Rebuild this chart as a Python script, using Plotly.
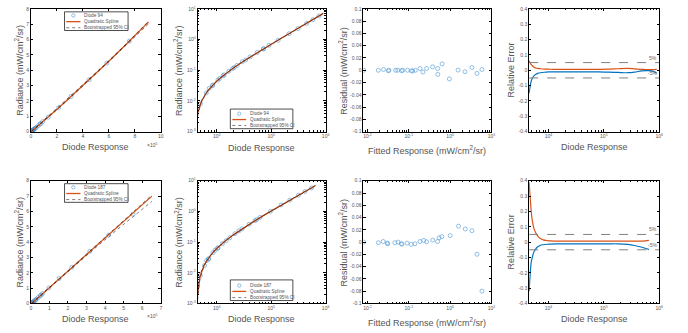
import plotly.graph_objects as go

# ---------------- Diode 94 ----------------
d94_response = [5065, 6470, 7320, 8355, 8490, 10560, 11380, 13170, 13720, 16750, 19750, 21020,
                23770, 29620, 34140, 40980, 55450, 72310, 72990, 91280, 134350, 214230, 309930,
                448930, 584930, 757930]
d94_fitted = [0.0081, 0.0183, 0.0245, 0.032, 0.033, 0.048, 0.054, 0.067, 0.071, 0.093, 0.115, 0.124,
              0.144, 0.187, 0.22, 0.27, 0.376, 0.50, 0.505, 0.64, 0.96, 1.56, 2.29, 3.38, 4.47, 5.90]
d94_residual = [0.0, 0.0, 0.0013, -0.0008, 0.0, 0.0, 0.0, -0.0008, 0.0, 0.0, -0.0008, -0.0013,
                0.0, 0.0029, -0.0029, 0.0029, 0.0056, 0.0029, -0.0067, 0.0104, -0.0141, 0.0003,
                -0.0024, 0.0045, -0.0051, 0.0013]
d94_curve_x = [4470, 4700, 4900, 5100, 5400, 5900, 6400, 7200, 8400, 10000, 12000, 15000, 20000,
               30000, 50000, 80000, 120000, 180000, 270000, 360000, 480000, 600000, 730000, 906000]
d94_spline = [0.00378, 0.00545, 0.0069, 0.00835, 0.01053, 0.01416, 0.01779, 0.02361, 0.03232,
              0.04397, 0.05852, 0.08035, 0.11676, 0.18971, 0.33604, 0.55665, 0.85288, 1.30168,
              1.98491, 2.68018, 3.62593, 4.59308, 5.66497, 7.15616]
d94_rel_upper = [0.062, 0.046, 0.036, 0.029, 0.022, 0.015, 0.012, 0.010, 0.008, 0.007, 0.006, 0.006,
                 0.006, 0.006, 0.006, 0.006, 0.007, 0.010, 0.012, 0.009, 0.006, 0.004, 0.004, 0.006]
d94_rel_lower = [-0.150, -0.095, -0.068, -0.052, -0.038, -0.026, -0.020, -0.016, -0.013, -0.011,
                 -0.010, -0.010, -0.010, -0.010, -0.010, -0.011, -0.012, -0.014, -0.016, -0.012,
                 -0.004, -0.002, -0.004, -0.018]

# ---------------- Diode 187 ----------------
d187_response = [5042, 5989, 6518, 7076, 7168, 8561, 9397, 10418, 10604, 12740, 14968, 17382, 21653,
                 25646, 29360, 39573, 50715, 54430, 62786, 97100, 152750, 220410, 317660, 418530,
                 550710]
d187_fitted = [0.0081, 0.0183, 0.024, 0.030, 0.031, 0.046, 0.055, 0.066, 0.068, 0.091, 0.115, 0.141,
               0.187, 0.23, 0.27, 0.38, 0.50, 0.54, 0.63, 1.0, 1.6, 2.33, 3.38, 4.47, 5.9]
d187_residual = [0.0, -0.001, 0.001, -0.0016, -0.0027, -0.001, 0.0, -0.0027, -0.0032, -0.0016,
                 -0.0037, -0.0027, 0.001, 0.0027, 0.0005, 0.0032, 0.001, 0.007, 0.009, 0.0107,
                 0.026, 0.0214, 0.0187, -0.0198, -0.080]
d187_curve_x = [4470, 4600, 4750, 4900, 5100, 5400, 5800, 6300, 7000, 8000, 9500, 11000, 14000,
                20000, 30000, 50000, 80000, 120000, 180000, 270000, 360000, 470000, 560000, 652000]
d187_spline = [0.00194, 0.00334, 0.00495, 0.00657, 0.00872, 0.01196, 0.01626, 0.02165, 0.02919,
               0.03996, 0.05611, 0.07227, 0.10458, 0.16921, 0.27693, 0.4924, 0.81568, 1.24687,
               1.89394, 2.86523, 3.83732, 5.02654, 6.00044, 6.99681]
d187_rel_upper = [0.39, 0.32, 0.25, 0.19, 0.14, 0.095, 0.064, 0.042, 0.025, 0.015, 0.010, 0.008,
                  0.006, 0.006, 0.006, 0.006, 0.006, 0.006, 0.006, 0.006, 0.006, 0.006, 0.008, 0.011]
d187_rel_lower = [-0.32, -0.24, -0.17, -0.125, -0.10, -0.067, -0.047, -0.032, -0.022, -0.017, -0.014,
                  -0.013, -0.012, -0.011, -0.011, -0.011, -0.011, -0.011, -0.011, -0.015, -0.022,
                  -0.032, -0.040, -0.049]

# ---------------- tick labels ----------------
lin_ticks_94 = [0, 2, 4, 6, 8, 10]          # x 10^5
lin_ticks_187 = [0, 1, 2, 3, 4, 5, 6, 7]    # x 10^5
radiance_ticks = [0, 1, 2, 3, 4, 5, 6, 7, 8]
residual_ticks = [-0.1, -0.08, -0.06, -0.04, -0.02, 0, 0.02, 0.04, 0.06, 0.08, 0.1]
relerr_ticks = [-0.4, -0.3, -0.2, -0.1, 0, 0.1, 0.2, 0.3, 0.4]
err_band = 0.05

BLUE = "#0072BD"
ORANGE = "#D95319"
MARKER = "#4a95d4"
TXT = "#555555"
TICK_TXT = "#555555"
FONT = "Liberation Sans, Arial, Helvetica, sans-serif"

W, H = 688, 333
# panel boxes in pixels: left, right, top, bottom
BOXES = {1: (30, 161, 6, 131), 2: (198, 327, 6, 131), 3: (365, 494, 6, 131), 4: (532, 663, 6, 131),
         5: (30, 161, 181, 306), 6: (198, 327, 181, 306), 7: (365, 494, 181, 306), 8: (532, 663, 181, 306)}


def px(x):
    return x / W


def py(y):
    return 1 - y / H


def names(i):
    return ("x" if i == 1 else f"x{i}", "y" if i == 1 else f"y{i}")


def fmt(v):
    return f"{v:g}"


def sup(base, e):
    return f"{base}<sup>{e}</sup>"


fig = go.Figure()


def add_row(first, response, fitted, residual, cx, spline, up, lo):
    radiance = [f + r for f, r in zip(fitted, residual)]
    ci_up = [s * (1 + u) for s, u in zip(spline, up)]
    ci_lo = [s * (1 + l) for s, l in zip(spline, lo)]
    for k in (first, first + 1):
        xa, ya = names(k)
        fig.add_trace(go.Scatter(x=response, y=radiance, mode="markers", xaxis=xa, yaxis=ya,
                                 marker=dict(symbol="circle-open", size=4, color=MARKER,
                                             line=dict(width=0.6)), showlegend=False))
        fig.add_trace(go.Scatter(x=cx, y=spline, mode="lines", xaxis=xa, yaxis=ya,
                                 line=dict(color=ORANGE, width=1.3), showlegend=False))
        for ci in (ci_up, ci_lo):
            fig.add_trace(go.Scatter(x=cx, y=ci, mode="lines", xaxis=xa, yaxis=ya,
                                     line=dict(color="#222222", width=0.6, dash="dot"),
                                     showlegend=False))
    xa, ya = names(first + 2)
    fig.add_trace(go.Scatter(x=fitted, y=residual, mode="markers", xaxis=xa, yaxis=ya,
                             marker=dict(symbol="circle-open", size=4, color=MARKER,
                                         line=dict(width=0.6)), showlegend=False))
    xa, ya = names(first + 3)
    fig.add_trace(go.Scatter(x=cx, y=up, mode="lines", xaxis=xa, yaxis=ya, line_shape="spline",
                             line=dict(color=ORANGE, width=1.2), showlegend=False))
    fig.add_trace(go.Scatter(x=cx, y=lo, mode="lines", xaxis=xa, yaxis=ya, line_shape="spline",
                             line=dict(color=BLUE, width=1.2), showlegend=False))


add_row(1, d94_response, d94_fitted, d94_residual, d94_curve_x, d94_spline, d94_rel_upper, d94_rel_lower)
add_row(5, d187_response, d187_fitted, d187_residual, d187_curve_x, d187_spline, d187_rel_upper, d187_rel_lower)

common = dict(showline=True, linecolor="black", linewidth=0.7, mirror="allticks", ticks="inside",
              ticklen=2.5, tickwidth=0.6, tickcolor="black", showgrid=False, zeroline=False,
              tickfont=dict(size=5, color=TICK_TXT, family=FONT), fixedrange=True)


def minor_log(lo_dec, hi_dec):
    vals = []
    for d in range(lo_dec, hi_dec):
        for m in range(2, 10):
            vals.append(m * 10 ** d)
    return dict(tickmode="array", tickvals=vals, ticks="inside", ticklen=1.4, tickwidth=0.5,
                tickcolor="black", showgrid=False)


layout_axes = {}
for i, (l, r, t, b) in BOXES.items():
    xa, ya = names(i)
    xkey = "xaxis" if i == 1 else f"xaxis{i}"
    ykey = "yaxis" if i == 1 else f"yaxis{i}"
    xd = dict(common, domain=[px(l), px(r)], anchor=ya)
    yd = dict(common, domain=[py(b), py(t)], anchor=xa)
    col = (i - 1) % 4
    if col == 0:
        ticks = lin_ticks_94 if i == 1 else lin_ticks_187
        xd.update(range=[0, ticks[-1] * 1e5], tickmode="array",
                  tickvals=[v * 1e5 for v in ticks], ticktext=[fmt(v) for v in ticks])
        yd.update(range=[0, 8], tickmode="array", tickvals=radiance_ticks,
                  ticktext=[fmt(v) for v in radiance_ticks])
    elif col == 1:
        xd.update(type="log", range=[3.65, 6], tickmode="array", tickvals=[1e4, 1e5, 1e6],
                  ticktext=[sup("10", e) for e in (4, 5, 6)], minor=minor_log(3, 6))
        yd.update(type="log", range=[-3, 1], tickmode="array",
                  tickvals=[1e-3, 1e-2, 1e-1, 1, 10],
                  ticktext=[sup("10", e) for e in (-3, -2, -1, 0, 1)], minor=minor_log(-3, 1))
    elif col == 2:
        xd.update(type="log", range=[-2.1, 1], tickmode="array", tickvals=[1e-2, 1e-1, 1, 10],
                  ticktext=[sup("10", e) for e in (-2, -1, 0, 1)], minor=minor_log(-3, 1))
        yd.update(range=[-0.1, 0.1], tickmode="array", tickvals=residual_ticks,
                  ticktext=[fmt(v) for v in residual_ticks])
    else:
        xd.update(type="log", range=[3.65, 6], tickmode="array", tickvals=[1e4, 1e5, 1e6],
                  ticktext=[sup("10", e) for e in (4, 5, 6)], minor=minor_log(3, 6))
        yd.update(range=[-0.4, 0.4], tickmode="array", tickvals=relerr_ticks,
                  ticktext=[fmt(v) for v in relerr_ticks])
    layout_axes[xkey] = xd
    layout_axes[ykey] = yd

shapes = []
annotations = []


def title(text, x, y, angle=0, size=9):
    annotations.append(dict(text=text, x=px(x), y=py(y), xref="paper", yref="paper",
                            showarrow=False, textangle=angle, xanchor="center", yanchor="middle",
                            font=dict(size=size, color=TXT, family=FONT)))


rad_title = "Radiance (mW/cm<sup>2</sup>/sr)"
res_title = "Residual (mW/cm<sup>2</sup>/sr)"
fit_title = "Fitted Response (mW/cm<sup>2</sup>/sr)"
for dy in (0, 175):
    title("Diode Response", 95.5, 146.7 + dy)
    title("Diode Response", 262.5, 147.3 + dy)
    title(fit_title, 429.5, 150.0 + dy)
    title("Diode Response", 597.5, 146.7 + dy)
    title(rad_title, 18.5, 68.5 + dy, -90)
    title(rad_title, 179, 68.5 + dy, -90)
    title(res_title, 345, 68.5 + dy, -90)
    title("Relative Error", 514, 68.5 + dy, -90)

# exponent labels of the linear diode axes
for yy in (145, 319):
    annotations.append(dict(text="\u00d710<sup>5</sup>", x=px(152), y=py(yy), xref="paper",
                            yref="paper", showarrow=False, xanchor="center", yanchor="middle",
                            font=dict(size=5, color=TICK_TXT, family=FONT)))

# +/-5 % reference lines on the relative error panels
for i in (4, 8):
    xa, ya = names(i)
    for v, lab in ((err_band, "5%"), (-err_band, "-5%")):
        shapes.append(dict(type="line", xref=f"{xa} domain", yref=ya, x0=0, x1=1, y0=v, y1=v,
                           line=dict(color="#808080", width=1, dash="dash")))
        annotations.append(dict(text=lab, xref=f"{xa} domain", yref=ya, x=1, y=v,
                                xanchor="right", yanchor="bottom", showarrow=False,
                                font=dict(size=5, color="#666666", family=FONT)))


def legend(box, rows, sx0, sx1, tx, label):
    l, t, r, b = box
    shapes.append(dict(type="rect", xref="paper", yref="paper", x0=px(l), x1=px(r), y0=py(b),
                       y1=py(t), line=dict(color="black", width=0.7), fillcolor="white"))
    cx = (sx0 + sx1) / 2
    shapes.append(dict(type="circle", xref="paper", yref="paper", x0=px(cx - 1.7), x1=px(cx + 1.7),
                       y0=py(rows[0] + 1.7), y1=py(rows[0] - 1.7), line=dict(color=MARKER, width=0.6)))
    shapes.append(dict(type="line", xref="paper", yref="paper", x0=px(sx0), x1=px(sx1),
                       y0=py(rows[1]), y1=py(rows[1]), line=dict(color=ORANGE, width=1.3)))
    shapes.append(dict(type="line", xref="paper", yref="paper", x0=px(sx0), x1=px(sx1),
                       y0=py(rows[2]), y1=py(rows[2]),
                       line=dict(color="#222222", width=0.6, dash="dot")))
    for yy, txt in zip(rows, (label, "Quadratic Spline", "Bootstrapped 95% CI")):
        annotations.append(dict(text=txt, x=px(tx), y=py(yy), xref="paper", yref="paper",
                                showarrow=False, xanchor="left", yanchor="middle",
                                font=dict(size=4.7, color=TXT, family=FONT)))


legend((64, 9, 128, 28), (12.7, 19, 25.2), 65.7, 80, 82, "Diode 94")
legend((231, 108, 294, 128), (112.7, 118.7, 124.7), 233, 247, 249, "Diode 94")
legend((64, 184, 128, 203), (187.7, 194, 200.2), 65.7, 80, 82, "Diode 187")
legend((231, 282, 294, 303), (287.7, 293.7, 300), 233, 247, 249, "Diode 187")

fig.update_layout(width=W, height=H, autosize=False, margin=dict(l=0, r=0, t=0, b=0),
                  paper_bgcolor="white", plot_bgcolor="white", showlegend=False,
                  font=dict(family=FONT, color=TXT), shapes=shapes, annotations=annotations,
                  **layout_axes)

fig.write_html("out.html")
